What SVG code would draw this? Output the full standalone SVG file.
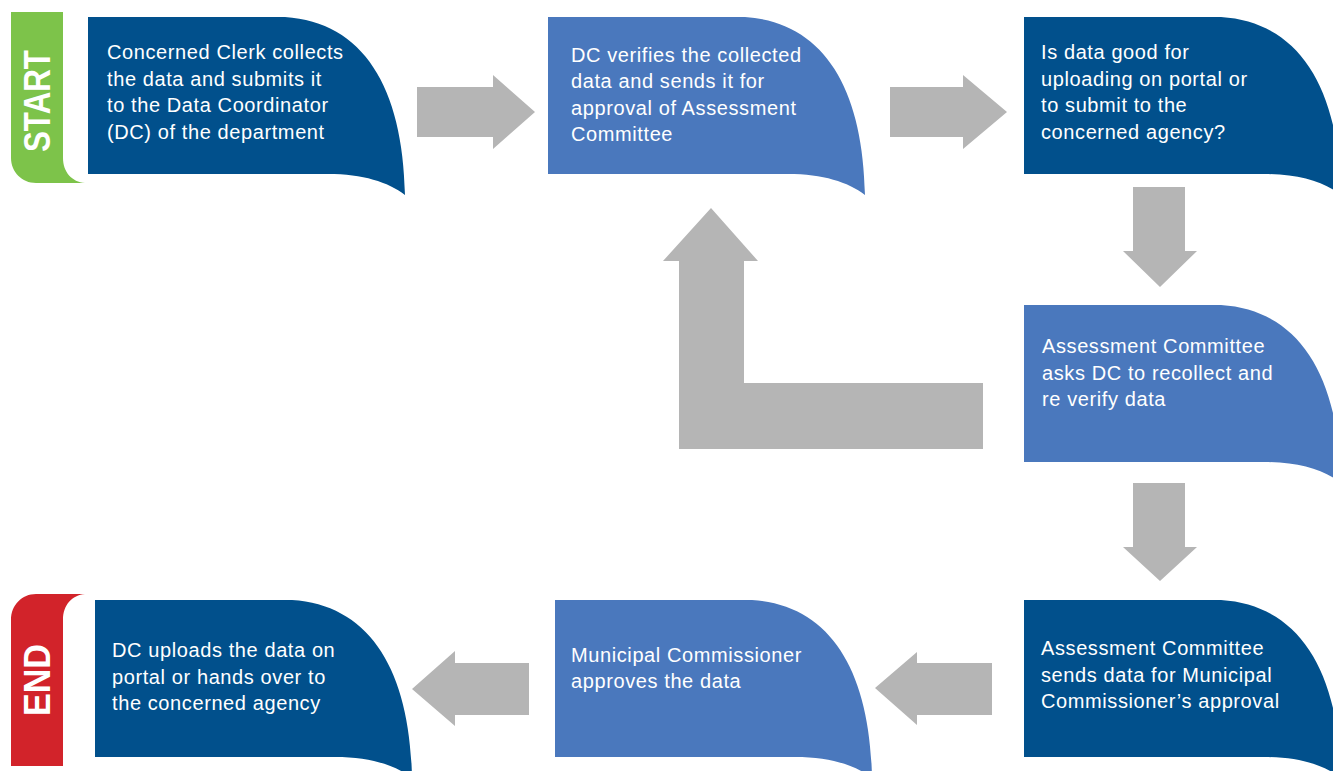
<svg xmlns="http://www.w3.org/2000/svg" xmlns:xlink="http://www.w3.org/1999/xlink" width="1333" height="771" viewBox="0 0 1333 771">
<defs>
<style>
.dark{fill:#01508C}
.light{fill:#4A78BD}
.arrow{fill:#B5B5B5}
.t{font-family:"Liberation Sans",Arial,sans-serif;font-size:20px;letter-spacing:0.6px;fill:#FFFFFF}
.tab{font-family:"Liberation Sans",Arial,sans-serif;font-weight:bold;font-size:36px;fill:#FFFFFF;text-anchor:middle}
</style>
<path id="card" d="M0,0 H197 C275,5 315,70 317,178 C300,165 275,157 240,157 H0 Z"/>
</defs>
<rect width="1333" height="771" fill="#FFFFFF"/>

<g id="start">
<path d="M11,12 H63 V158 C63,172 72,182 85,183 H36 C22,183 11,172 11,158 Z" fill="#7DC34A"/>
<text class="tab" transform="translate(50,101) rotate(-90)" textLength="102" lengthAdjust="spacingAndGlyphs">START</text>
</g>
<g id="end">
<path d="M36,594 H85 C72,595 63,605 63,620 V766 H11 V620 C11,605 22,594 36,594 Z" fill="#D2232A"/>
<text class="tab" transform="translate(50,680) rotate(-90)" textLength="72" lengthAdjust="spacingAndGlyphs">END</text>
</g>

<g id="connectors">
<polygon class="arrow" points="417,87 493,87 493,75 535,112 493,149 493,137 417,137"/>
<polygon class="arrow" points="890,87 963,87 963,75 1007,112 963,149 963,137 890,137"/>
<polygon class="arrow" points="1133,187 1185,187 1185,251 1197,251 1160,287 1123,251 1133,251"/>
<polygon class="arrow" points="1133,483 1185,483 1185,547 1197,547 1160,581 1123,547 1133,547"/>
<polygon class="arrow" points="711,208 758,261 744,261 744,383 983,383 983,449 679,449 679,261 663,261"/>
<polygon class="arrow" points="992,663 992,715 917,715 917,725 875,688 917,652 917,663"/>
<polygon class="arrow" points="529,663 529,715 455,715 455,726 412,689 455,651 455,663"/>
</g>

<g id="node1" transform="translate(88,17)">
<use xlink:href="#card" class="dark"/>
<text class="t"><tspan x="19" y="42">Concerned Clerk collects</tspan><tspan x="19" y="69">the data and submits it</tspan><tspan x="19" y="95">to the Data Coordinator</tspan><tspan x="19" y="122">(DC) of the department</tspan></text>
</g>
<g id="node2" transform="translate(548,17)">
<use xlink:href="#card" class="light"/>
<text class="t"><tspan x="23" y="45">DC verifies the collected</tspan><tspan x="23" y="71">data and sends it for</tspan><tspan x="23" y="98">approval of Assessment</tspan><tspan x="23" y="124">Committee</tspan></text>
</g>
<g id="node3" transform="translate(1024,17)">
<use xlink:href="#card" class="dark"/>
<text class="t"><tspan x="17" y="42">Is data good for</tspan><tspan x="17" y="69">uploading on portal or</tspan><tspan x="17" y="95">to submit to the</tspan><tspan x="17" y="122">concerned agency?</tspan></text>
</g>
<g id="node4" transform="translate(1024,305)">
<use xlink:href="#card" class="light"/>
<text class="t"><tspan x="18" y="48">Assessment Committee</tspan><tspan x="18" y="75">asks DC to recollect and</tspan><tspan x="18" y="101">re verify data</tspan></text>
</g>
<g id="node5" transform="translate(1024,600)">
<use xlink:href="#card" class="dark"/>
<text class="t"><tspan x="17" y="55">Assessment Committee</tspan><tspan x="17" y="82">sends data for Municipal</tspan><tspan x="17" y="108">Commissioner’s approval</tspan></text>
</g>
<g id="node6" transform="translate(555,600)">
<use xlink:href="#card" class="light"/>
<text class="t"><tspan x="16" y="62">Municipal Commissioner</tspan><tspan x="16" y="88">approves the data</tspan></text>
</g>
<g id="node7" transform="translate(95,600)">
<use xlink:href="#card" class="dark"/>
<text class="t"><tspan x="17" y="57">DC uploads the data on</tspan><tspan x="17" y="84">portal or hands over to</tspan><tspan x="17" y="110">the concerned agency</tspan></text>
</g>
</svg>
